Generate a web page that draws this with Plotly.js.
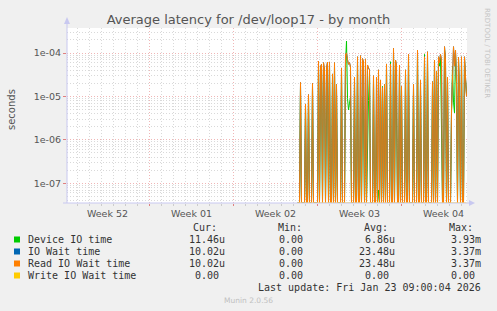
<!DOCTYPE html>
<html><head><meta charset="utf-8">
<script src="https://cdn.plot.ly/plotly-3.0.1.min.js"></script>
<style>html,body{margin:0;padding:0;background:#f0f0f0;overflow:hidden}#chart{width:497px;height:311px}</style>
</head><body><div id="chart"></div>
<script>
// ---- data (microseconds), one sample every 2 hours from seriesStart ----
const seriesStart = Date.UTC(2026, 0, 10, 8, 0);
const stepHours = 2;
const deviceIO = [
  0, 0, 0, 18, 0, 0, 0, 0, 6, 0,
  0, 10, 0, 0, 0, 17, 0, 0, 0, 0,
  0, 55, 0, 17, 40, 0, 50, 30, 0, 4.9,
  50, 0, 55, 0, 0, 28, 0, 50, 0, 16,
  0, 0, 0, 0, 40, 0, 0, 0, 60, 189,
  9, 4.9, 7, 9.7, 0, 0, 0, 24, 0, 0,
  70, 0, 0, 7.4, 0, 9.7, 5, 0, 5.7, 0,
  2.6, 8, 36, 0, 0, 0, 25, 0, 0, 4.9,
  0, 0.07, 0, 20, 0, 17, 0, 16, 0, 50,
  0, 0, 0, 63, 0, 0, 110, 0, 60, 4.9,
  0, 0, 45, 0, 15, 0, 0, 0, 35, 0,
  0, 80, 0, 0, 0, 0, 16, 0, 0, 0,
  100, 0, 0, 20, 0, 0, 0, 93, 0, 0,
  90, 0, 0, 0, 0, 18, 0, 69, 0, 32,
  0, 70, 50, 80, 2.6, 0, 0, 120, 60, 0,
  24, 0, 0, 0, 4, 50, 7.4, 4.2, 100, 18,
  0, 70, 9, 0, 70, 0, 0, 70, 24, 11.46
];
const readWait = [
  0, 0, 0, 21, 0, 0, 0, 0, 6.7, 0,
  0, 11, 0, 0, 0, 20, 0, 0, 0, 0,
  0, 65, 0, 48, 55, 0, 60, 40, 0, 45,
  62, 0, 62, 0, 0, 33, 0, 60, 0, 19,
  0, 0, 0, 0, 45, 0, 0, 0, 95, 100,
  70, 55, 60, 48, 0, 0, 0, 28, 0, 0,
  82, 0, 0, 87, 0, 75, 62, 0, 73, 0,
  53, 45, 41, 0, 0, 0, 30, 0, 0, 28,
  0, 41, 0, 24, 0, 16, 0, 19, 0, 56,
  0, 0, 0, 56, 0, 0, 128, 0, 69, 53,
  0, 0, 53, 0, 17, 0, 0, 0, 41, 0,
  0, 93, 0, 0, 0, 0, 19, 0, 0, 0,
  117, 0, 0, 24, 0, 0, 0, 82, 0, 0,
  107, 0, 0, 0, 0, 22, 0, 69, 0, 38,
  0, 82, 60, 93, 70, 0, 0, 140, 69, 0,
  28, 0, 0, 0, 4.9, 62, 140, 50, 117, 21,
  0, 80, 10, 0, 82, 0, 0, 82, 28, 10.02
];
const ioWait = readWait.slice();          // identical to read wait in the source
const writeWait = readWait.map(() => 0);  // all zero in the source

const seriesNames  = ['Device IO time', 'IO Wait time', 'Read IO Wait time', 'Write IO Wait time'];
const seriesColors = ['#00CC00', '#0066B3', '#FF8000', '#FFCC00'];
const seriesData   = [deviceIO, ioWait, readWait, writeWait];
const curValues = ['11.46u', '10.02u', '10.02u', '0.00\u00A0'];
const minValues = ['0.00\u00A0', '0.00\u00A0', '0.00\u00A0', '0.00\u00A0'];
const avgValues = ['6.86u', '23.48u', '23.48u', '0.00\u00A0'];
const maxValues = ['3.93m', '3.37m', '3.37m', '0.00\u00A0'];
const yTickVals = [1e-7, 1e-6, 1e-5, 1e-4];
const yTickText = ['1e-07', '1e-06', '1e-05', '1e-04'];

// ---- layout helpers ----
const L = 67, R = 467, T = 28, B = 203;
const yLogRange = [-7.454, -3.424];
const px = x => (x - L) / (R - L);
const py = y => (B - y) / (B - T);
const floorVal = Math.pow(10, yLogRange[0]);

function fmt(ms) {
  const d = new Date(ms), p = n => String(n).padStart(2, '0');
  return d.getUTCFullYear() + '-' + p(d.getUTCMonth() + 1) + '-' + p(d.getUTCDate()) + ' ' + p(d.getUTCHours()) + ':' + p(d.getUTCMinutes());
}
const times = deviceIO.map((_, i) => fmt(seriesStart + i * stepHours * 3600000));

const traces = seriesData.map((arr, k) => ({
  type: 'scatter', mode: 'lines', name: seriesNames[k],
  x: times, y: arr.map(v => v > 0 ? v * 1e-6 : floorVal),
  line: {color: seriesColors[k], width: 1}, hoverinfo: 'skip'
}));

const minorY = [];
for (let e = -8; e <= -4; e++) for (let m = 2; m <= 9; m++) minorY.push(m * Math.pow(10, e));

const mono = {family: 'DejaVu Sans Mono', size: 10, color: '#333'};
const annotations = [];
function txt(x, y, text, anchor, font, extra) {
  annotations.push(Object.assign({xref: 'paper', yref: 'paper', x: px(x), y: py(y), text: text,
    showarrow: false, xanchor: anchor, yanchor: 'middle', font: font}, extra || {}));
}
txt(190.7, 227.7, 'Cur:', 'left', mono);
txt(276, 227.7, 'Min:', 'left', mono);
txt(361.7, 227.7, 'Avg:', 'left', mono);
txt(446.7, 227.7, 'Max:', 'left', mono);
const rowY = [239.5, 251.5, 263.5, 275.5];
const shapes = [];
seriesNames.forEach((n, i) => {
  txt(26, rowY[i], n, 'left', mono);
  txt(226.7, rowY[i], curValues[i], 'right', mono);
  txt(311, rowY[i], minValues[i], 'right', mono);
  txt(396.7, rowY[i], avgValues[i], 'right', mono);
  txt(482.7, rowY[i], maxValues[i], 'right', mono);
  shapes.push({type: 'rect', xref: 'paper', yref: 'paper', x0: px(14), x1: px(20), y0: py(rowY[i] + 3), y1: py(rowY[i] - 3),
    fillcolor: seriesColors[i], line: {width: 0}});
});
txt(482.7, 287.5, 'Last update: Fri Jan 23 09:00:04 2026', 'right', mono);
txt(248, 300, 'Munin 2.0.56', 'center', {family: 'DejaVu Sans', size: 7.5, color: '#c0c0c0'});
txt(11, 109, 'seconds', 'center', {family: 'DejaVu Sans', size: 10, color: '#555'}, {textangle: -90});
txt(487, 53, 'RRDTOOL / TOBI OETIKER', 'center', {family: 'DejaVu Sans', size: 7, color: '#c4c4c4'}, {textangle: 90});

// axis arrows
const axisCol = '#c8c8f0';
shapes.push({type: 'line', xref: 'paper', yref: 'paper', x0: px(67), x1: px(67), y0: py(203), y1: py(20), line: {color: axisCol, width: 1}});
shapes.push({type: 'path', xref: 'paper', yref: 'paper',
  path: `M ${px(64)} ${py(24)} L ${px(70)} ${py(24)} L ${px(67)} ${py(17)} Z`, fillcolor: axisCol, line: {width: 0}});
shapes.push({type: 'line', xref: 'paper', yref: 'paper', x0: px(63), x1: px(472), y0: py(203), y1: py(203), line: {color: axisCol, width: 1}});
shapes.push({type: 'path', xref: 'paper', yref: 'paper',
  path: `M ${px(469)} ${py(200)} L ${px(469)} ${py(206)} L ${px(475)} ${py(203)} Z`, fillcolor: axisCol, line: {width: 0}});

const majorGrid = 'rgba(225,110,110,0.5)';
const minorGrid = 'rgba(160,160,160,0.4)';
const layout = {
  width: 497, height: 311,
  margin: {l: L, r: 497 - R, t: T, b: 311 - B, pad: 0},
  paper_bgcolor: '#f0f0f0', plot_bgcolor: '#ffffff', showlegend: false,
  font: {family: 'DejaVu Sans', size: 9.5, color: '#555'},
  title: {text: 'Average latency for /dev/loop17 - by month', font: {family: 'DejaVu Sans', size: 13, color: '#555'},
    x: 0.5, xref: 'container', xanchor: 'center', y: 1 - 19.5 / 311, yref: 'container', yanchor: 'middle'},
  xaxis: {type: 'date', range: ['2025-12-22 03:00', '2026-01-24 11:00'],
    tick0: '2025-12-29', dtick: 604800000, tickformat: 'Week %V', ticklabelmode: 'period',
    showgrid: true, gridcolor: majorGrid, griddash: '1px,2px', gridwidth: 1,
    ticks: 'outside', ticklen: 2, tickcolor: '#e08080', showline: false, zeroline: false,
    tickfont: {family: 'DejaVu Sans', size: 9.5, color: '#555'},
    minor: {dtick: 86400000, tick0: '2025-12-29', showgrid: true, gridcolor: minorGrid, griddash: '1px,2px', gridwidth: 1,
      ticks: 'outside', ticklen: 2, tickcolor: '#cccccc'}},
  yaxis: {type: 'log', range: yLogRange, tickmode: 'array', tickvals: yTickVals, ticktext: yTickText,
    showgrid: true, gridcolor: majorGrid, griddash: '1px,2px', gridwidth: 1,
    ticks: 'outside', ticklen: 3, tickcolor: '#e08080', showline: false, zeroline: false,
    tickfont: {family: 'DejaVu Sans', size: 9.5, color: '#555'},
    minor: {tickmode: 'array', tickvals: minorY, showgrid: true, gridcolor: minorGrid, griddash: '1px,2px', gridwidth: 1, ticks: ''}},
  annotations: annotations, shapes: shapes
};
Plotly.newPlot('chart', traces, layout, {staticPlot: true, displayModeBar: false});
</script>
</body></html>
